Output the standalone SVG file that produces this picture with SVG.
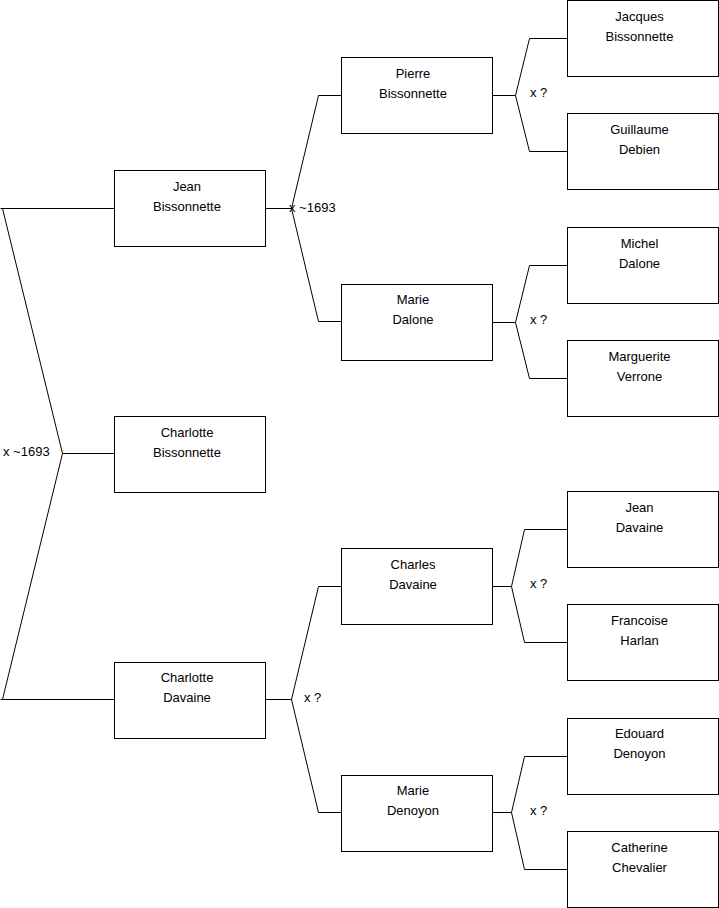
<svg xmlns="http://www.w3.org/2000/svg" width="719" height="908" viewBox="0 0 719 908">
<style>
rect{fill:#fff;stroke:#000;stroke-width:1}
.c path{fill:none;stroke:#000;stroke-width:1}
text{font-family:"Liberation Sans",Arial,sans-serif;font-size:13px;fill:#000}
.n text{text-anchor:middle}
</style>
<rect x="0" y="0" width="719" height="908" style="stroke:none"/>
<g class="c" id="connectors">
<path d="M0.5,208.5H114M2.5,208.5L62.5,453.5L2.5,699.5M62.5,453.5H114M0.5,699.5H114"/>
<path d="M265,208.5H291.5M318.5,95.5L291.5,208.5L318.5,321.5M318.5,95.5H341M318.5,321.5H341"/>
<path d="M265,699.5H291.5M318.5,586.5L291.5,699.5L318.5,812.5M318.5,586.5H341M318.5,812.5H341"/>
<path d="M492,95.5H515.5M529.5,38.5L515.5,95.5L529.5,151.5M529.5,38.5H567M529.5,151.5H567"/>
<path d="M492,322.5H515.5M529.5,265.5L515.5,322.5L529.5,378.5M529.5,265.5H567M529.5,378.5H567"/>
<path d="M492,586.5H511.5M524.5,529.5L511.5,586.5L524.5,642.5M524.5,529.5H567M524.5,642.5H567"/>
<path d="M492,812.5H511.5M524.5,756.5L511.5,812.5L524.5,869.5M524.5,756.5H567M524.5,869.5H567"/>
<text x="3" y="456">x ~1693</text>
<text x="289" y="212">x ~1693</text>
<text x="304" y="702">x ?</text>
<text x="530" y="97">x ?</text>
<text x="530" y="324">x ?</text>
<text x="530" y="588">x ?</text>
<text x="530" y="815">x ?</text>
</g>
<g class="n" id="jean-bissonnette"><rect x="114.5" y="170.5" width="151" height="76"/><text x="187" y="191">Jean</text><text x="187" y="211">Bissonnette</text></g>
<g class="n" id="charlotte-bissonnette"><rect x="114.5" y="416.5" width="151" height="76"/><text x="187" y="437">Charlotte</text><text x="187" y="457">Bissonnette</text></g>
<g class="n" id="charlotte-davaine"><rect x="114.5" y="662.5" width="151" height="76"/><text x="187" y="682">Charlotte</text><text x="187" y="702">Davaine</text></g>
<g class="n" id="pierre-bissonnette"><rect x="341.5" y="57.5" width="151" height="76"/><text x="413" y="78">Pierre</text><text x="413" y="98">Bissonnette</text></g>
<g class="n" id="marie-dalone"><rect x="341.5" y="284.5" width="151" height="76"/><text x="413" y="304">Marie</text><text x="413" y="324">Dalone</text></g>
<g class="n" id="charles-davaine"><rect x="341.5" y="548.5" width="151" height="76"/><text x="413" y="569">Charles</text><text x="413" y="589">Davaine</text></g>
<g class="n" id="marie-denoyon"><rect x="341.5" y="775.5" width="151" height="76"/><text x="413" y="795">Marie</text><text x="413" y="815">Denoyon</text></g>
<g class="n" id="jacques-bissonnette"><rect x="567.5" y="0.5" width="151" height="76"/><text x="639.5" y="21">Jacques</text><text x="639.5" y="41">Bissonnette</text></g>
<g class="n" id="guillaume-debien"><rect x="567.5" y="113.5" width="151" height="76"/><text x="639.5" y="134">Guillaume</text><text x="639.5" y="154">Debien</text></g>
<g class="n" id="michel-dalone"><rect x="567.5" y="227.5" width="151" height="76"/><text x="639.5" y="248">Michel</text><text x="639.5" y="268">Dalone</text></g>
<g class="n" id="marguerite-verrone"><rect x="567.5" y="340.5" width="151" height="76"/><text x="639.5" y="361">Marguerite</text><text x="639.5" y="381">Verrone</text></g>
<g class="n" id="jean-davaine"><rect x="567.5" y="491.5" width="151" height="76"/><text x="639.5" y="512">Jean</text><text x="639.5" y="532">Davaine</text></g>
<g class="n" id="francoise-harlan"><rect x="567.5" y="604.5" width="151" height="76"/><text x="639.5" y="625">Francoise</text><text x="639.5" y="645">Harlan</text></g>
<g class="n" id="edouard-denoyon"><rect x="567.5" y="718.5" width="151" height="76"/><text x="639.5" y="738">Edouard</text><text x="639.5" y="758">Denoyon</text></g>
<g class="n" id="catherine-chevalier"><rect x="567.5" y="831.5" width="151" height="76"/><text x="639.5" y="852">Catherine</text><text x="639.5" y="872">Chevalier</text></g>
</svg>
